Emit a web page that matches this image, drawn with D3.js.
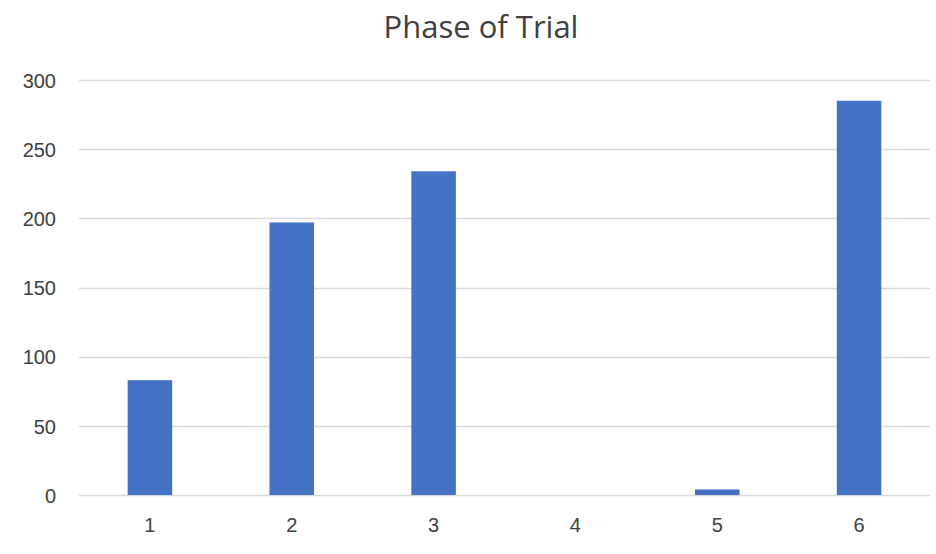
<!DOCTYPE html>
<html>
<head>
<meta charset="utf-8">
<script src="https://cdn.jsdelivr.net/npm/d3@7"></script>
<style>
  html, body { margin: 0; padding: 0; background: #fff; }
  svg { display: block; font-family: "Open Sans", "Liberation Sans", sans-serif; }
</style>
</head>
<body>
<svg id="chart" width="936" height="554"></svg>
<script>
// Number of trials by phase
const phases = ["1", "2", "3", "4", "5", "6"];
const counts = [83, 197, 234, 0, 4, 285];
const yTicks = [0, 50, 100, 150, 200, 250, 300];
const title = "Phase of Trial";

const svg = d3.select("#chart");
const plot = { left: 79, right: 930, top: 80, bottom: 495 };

const x = d3.scaleBand()
  .domain(phases)
  .range([plot.left, plot.right])
  .paddingInner(0.686)
  .paddingOuter(0.343);

const y = d3.scaleLinear()
  .domain([0, 300])
  .range([plot.bottom, plot.top]);

// Horizontal gridlines
svg.append("g")
  .selectAll("line")
  .data(yTicks)
  .join("line")
  .attr("x1", plot.left)
  .attr("x2", plot.right)
  .attr("y1", d => Math.round(y(d)) + 0.5)
  .attr("y2", d => Math.round(y(d)) + 0.5)
  .attr("stroke", "#d9d9d9")
  .attr("stroke-width", 1.5);

// Y axis labels
const yAxis = svg.append("g")
  .attr("transform", "translate(56,0)")
  .call(d3.axisLeft(y).tickValues(yTicks).tickSize(0).tickPadding(0));
yAxis.select(".domain").remove();
yAxis.selectAll("text")
  .attr("fill", "#404040")
  .attr("font-size", 20)
  .attr("dy", "0.36em");

// Bars
svg.append("g")
  .selectAll("rect")
  .data(phases.map((p, i) => ({ p, v: counts[i] })))
  .join("rect")
  .attr("x", d => x(d.p))
  .attr("width", x.bandwidth())
  .attr("y", d => y(d.v))
  .attr("height", d => y(0) - y(d.v))
  .attr("fill", "#4472c4");

// X axis labels
const xAxis = svg.append("g")
  .attr("transform", "translate(0,532)")
  .call(d3.axisBottom(x).tickSize(0).tickPadding(0));
xAxis.select(".domain").remove();
xAxis.selectAll("text")
  .attr("fill", "#404040")
  .attr("font-size", 20)
  .attr("y", 0)
  .attr("dy", 0);

// Title
svg.append("text")
  .attr("x", 481)
  .attr("y", 38)
  .attr("text-anchor", "middle")
  .attr("fill", "#404040")
  .attr("font-size", 31)
  .text(title);
</script>
</body>
</html>
